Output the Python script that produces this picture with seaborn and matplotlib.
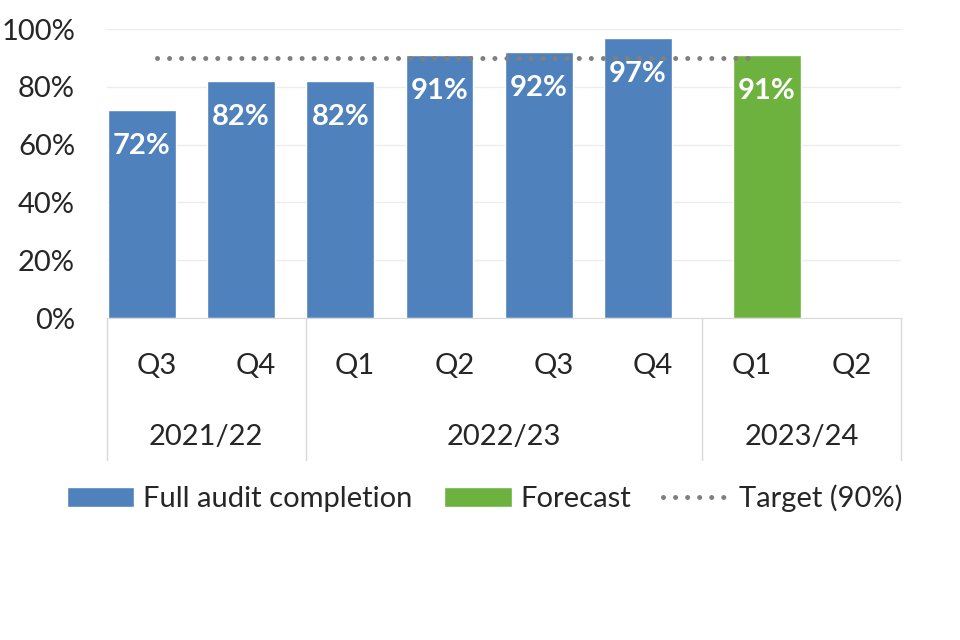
import matplotlib
matplotlib.use("Agg")
import matplotlib.pyplot as plt
import seaborn as sb
import pandas as pd
from matplotlib.patches import Patch
from matplotlib.lines import Line2D

# DATA #
quarters = ["Q3", "Q4", "Q1", "Q2", "Q3", "Q4", "Q1", "Q2"]
years = ["2021/22", "2021/22", "2022/23", "2022/23", "2022/23", "2022/23", "2023/24", "2023/24"]
completion = [72, 82, 82, 91, 92, 97, None, None]
forecast = [None, None, None, None, None, None, 91, None]
target = [90, 90, 90, 90, 90, 90, 90, None]

series_names = ["Full audit completion", "Forecast"]
blue = "#4F81BD"
green = "#6DB23F"
grey = "#808080"

periods = [y + " " + q for y, q in zip(years, quarters)]
rows = []
for per, c, f in zip(periods, completion, forecast):
    rows.append({"period": per, "series": series_names[0], "value": c})
    rows.append({"period": per, "series": series_names[1], "value": f})
df = pd.DataFrame(rows).dropna()

sb.set_style("white")
plt.rcParams["font.family"] = ["Lato", "DejaVu Sans"]
fs = 21

fig = plt.figure(figsize=(9.6, 6.4), dpi=100)
ax = fig.add_axes([0.1115, 0.503, 0.827, 0.4515])

sb.barplot(data=df, x="period", y="value", hue="series", order=periods,
           hue_order=series_names, palette=[blue, green], saturation=1,
           width=0.6, gap=-1.28, dodge=True, legend=False, ax=ax, zorder=2)

for cont in ax.containers:
    labels = ax.bar_label(cont, fmt="{:.0f}%", padding=-26, color="white",
                          fontsize=fs, fontweight="bold")
    for t in labels:
        t.set_va("center")

# target line
dft = pd.DataFrame({"pos": range(len(periods)), "target": target}).dropna()
sb.lineplot(data=dft, x="pos", y="target", color=grey, linewidth=3.6,
            linestyle=(0, (0.01, 2.4)), dash_capstyle="round", ax=ax, zorder=3)

ax.set_xlim(-0.5, len(periods) - 0.5)
ax.set_ylim(0, 100)
ax.set_yticks(range(0, 101, 20))
ax.set_yticklabels([f"{v}%" for v in range(0, 101, 20)])
ax.yaxis.grid(True, color="#EDEDED", linewidth=1)
ax.set_axisbelow(True)
for s in ["top", "right", "left"]:
    ax.spines[s].set_visible(False)
ax.spines["bottom"].set_color("#D9D9D9")
ax.set_xlabel("")
ax.set_ylabel("")
ax.set_xticks(range(len(periods)))
ax.set_xticklabels(quarters)
ax.tick_params(axis="x", length=0, pad=25.5, labelsize=fs)
ax.tick_params(axis="y", length=0, pad=23, labelsize=fs)

# multi-level category axis
tr = ax.get_xaxis_transform()
bounds = [-0.5]
groups = []
for i, y in enumerate(years):
    if i == len(years) - 1 or years[i + 1] != y:
        start = bounds[-1]
        bounds.append(i + 0.5)
        groups.append((y, (start + i + 0.5) / 2))
for b in bounds:
    ax.plot([b, b], [0, -0.49], transform=tr, color="#D9D9D9", lw=1, clip_on=False)
for name, c in groups:
    ax.text(c, -0.41, name, transform=tr, ha="center", va="center", fontsize=fs)

handles = [Patch(facecolor=blue), Patch(facecolor=green),
           Line2D([], [], color=grey, linewidth=3.6, linestyle=(0, (0.01, 2.4)),
                  dash_capstyle="round")]
fig.legend(handles, ["Full audit completion", "Forecast", "Target (90%)"],
           loc="center", bbox_to_anchor=(0.505, 0.221), ncol=3, frameon=False,
           fontsize=fs, handlelength=2.3, handleheight=0.7, handletextpad=0.3,
           columnspacing=1.1)

plt.savefig("out.png", dpi=100)
